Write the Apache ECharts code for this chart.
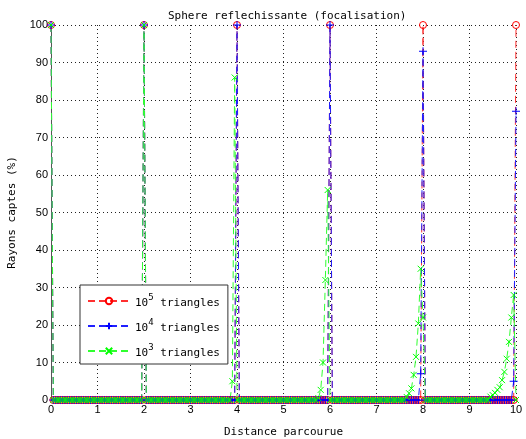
<!DOCTYPE html>
<html>
<head>
<meta charset="utf-8">
<script src="https://cdn.jsdelivr.net/npm/echarts@6/dist/echarts.min.js"></script>
<style>html,body{margin:0;padding:0;background:#fff;}#c{width:526px;height:439px;}</style>
</head>
<body>
<div id="c"></div>
<script>
// Distance samples (shared by all series)
var distance = [
0,0.05,0.1,0.15,0.2,0.25,0.3,0.35,0.4,0.45,0.5,0.55,0.6,0.65,0.7,0.75,0.8,0.85,0.9,0.95,
1,1.05,1.1,1.15,1.2,1.25,1.3,1.35,1.4,1.45,1.5,1.55,1.6,1.65,1.7,1.75,1.8,1.85,1.9,1.95,
2,2.05,2.1,2.15,2.2,2.25,2.3,2.35,2.4,2.45,2.5,2.55,2.6,2.65,2.7,2.75,2.8,2.85,2.9,2.95,
3,3.05,3.1,3.15,3.2,3.25,3.3,3.35,3.4,3.45,3.5,3.55,3.6,3.65,3.7,3.75,3.8,3.85,3.9,3.95,
4,4.05,4.1,4.15,4.2,4.25,4.3,4.35,4.4,4.45,4.5,4.55,4.6,4.65,4.7,4.75,4.8,4.85,4.9,4.95,
5,5.05,5.1,5.15,5.2,5.25,5.3,5.35,5.4,5.45,5.5,5.55,5.6,5.65,5.7,5.75,5.8,5.85,5.9,5.95,
6,6.05,6.1,6.15,6.2,6.25,6.3,6.35,6.4,6.45,6.5,6.55,6.6,6.65,6.7,6.75,6.8,6.85,6.9,6.95,
7,7.05,7.1,7.15,7.2,7.25,7.3,7.35,7.4,7.45,7.5,7.55,7.6,7.65,7.7,7.75,7.8,7.85,7.9,7.95,
8,8.05,8.1,8.15,8.2,8.25,8.3,8.35,8.4,8.45,8.5,8.55,8.6,8.65,8.7,8.75,8.8,8.85,8.9,8.95,
9,9.05,9.1,9.15,9.2,9.25,9.3,9.35,9.4,9.45,9.5,9.55,9.6,9.65,9.7,9.75,9.8,9.85,9.9,9.95,
10];

// 10^5 triangles
var tri1e5 = [
100,0,0,0,0,0,0,0,0,0,0,0,0,0,0,0,0,0,0,0,
0,0,0,0,0,0,0,0,0,0,0,0,0,0,0,0,0,0,0,0,
100,0,0,0,0,0,0,0,0,0,0,0,0,0,0,0,0,0,0,0,
0,0,0,0,0,0,0,0,0,0,0,0,0,0,0,0,0,0,0,0,
100,0,0,0,0,0,0,0,0,0,0,0,0,0,0,0,0,0,0,0,
0,0,0,0,0,0,0,0,0,0,0,0,0,0,0,0,0,0,0,0,
100,0,0,0,0,0,0,0,0,0,0,0,0,0,0,0,0,0,0,0,
0,0,0,0,0,0,0,0,0,0,0,0,0,0,0,0,0,0,0,0,
100,0,0,0,0,0,0,0,0,0,0,0,0,0,0,0,0,0,0,0,
0,0,0,0,0,0,0,0,0,0,0,0,0,0,0,0,0,0,0,0,
100];

// 10^4 triangles
var tri1e4 = [
100,0,0,0,0,0,0,0,0,0,0,0,0,0,0,0,0,0,0,0,
0,0,0,0,0,0,0,0,0,0,0,0,0,0,0,0,0,0,0,0,
100,0,0,0,0,0,0,0,0,0,0,0,0,0,0,0,0,0,0,0,
0,0,0,0,0,0,0,0,0,0,0,0,0,0,0,0,0,0,0,0,
100,0,0,0,0,0,0,0,0,0,0,0,0,0,0,0,0,0,0,0,
0,0,0,0,0,0,0,0,0,0,0,0,0,0,0,0,0,0,0,0,
100,0,0,0,0,0,0,0,0,0,0,0,0,0,0,0,0,0,0,0,
0,0,0,0,0,0,0,0,0,0,0,0,0,0,0,0,0,0,0,7,
93,0,0,0,0,0,0,0,0,0,0,0,0,0,0,0,0,0,0,0,
0,0,0,0,0,0,0,0,0,0,0,0,0,0,0,0,0,0,0,5,
77];

// 10^3 triangles
var tri1e3 = [
100,0,0,0,0,0,0,0,0,0,0,0,0,0,0,0,0,0,0,0,
0,0,0,0,0,0,0,0,0,0,0,0,0,0,0,0,0,0,0,0,
100,0,0,0,0,0,0,0,0,0,0,0,0,0,0,0,0,0,0,0,
0,0,0,0,0,0,0,0,0,0,0,0,0,0,0,0,0,0,5,86,
0,0,0,0,0,0,0,0,0,0,0,0,0,0,0,0,0,0,0,0,
0,0,0,0,0,0,0,0,0,0,0,0,0,0,0,0.5,2.7,10,32,56,
0,0,0,0,0,0,0,0,0,0,0,0,0,0,0,0,0,0,0,0,
0,0,0,0,0,0,0,0,0,0,0,0,0,0.8,1.8,3.1,6.7,11.5,20.4,35,
22,0,0,0,0,0,0,0,0,0,0,0,0,0,0,0,0,0,0,0,
0,0,0,0,0,0,0,0,0,0.9,1.3,1.9,2.7,3.4,5.3,7.5,11,15.5,22,28,
0];

var seriesNames = ['10^5 triangles', '10^4 triangles', '10^3 triangles'];
var xTicks = [0,1,2,3,4,5,6,7,8,9,10];
var yTicks = [0,10,20,30,40,50,60,70,80,90,100];

function pairs(ys) {
  return distance.map(function (x, i) { return [x, ys[i]]; });
}

var mono = 'DejaVu Sans Mono';
var dash = [7, 4];

var chart = echarts.init(document.getElementById('c'), null, {renderer: 'canvas'});
chart.setOption({
  animation: false,
  backgroundColor: '#fff',
  title: {
    text: 'Sphere reflechissante (focalisation)',
    left: 163, top: 6,
    textStyle: {fontFamily: mono, fontSize: 11, fontWeight: 'normal', color: '#000'}
  },
  grid: {left: 51, right: 10, top: 25, bottom: 39, containLabel: false, outerBoundsMode: 'none'},
  legend: {
    orient: 'vertical', left: 80, top: 285,
    itemWidth: 42, itemHeight: 8, itemGap: 9,
    backgroundColor: '#fff', borderColor: '#333', borderWidth: 1, borderRadius: 0,
    padding: [8, 8, 5, 7],
    data: seriesNames,
    formatter: function (name) {
      var p = name.split('^');
      var rest = p[1].split(' ');
      return '{b|' + p[0] + '}{s|' + rest[0] + '}{b| ' + rest.slice(1).join(' ') + '}';
    },
    textStyle: {
      fontFamily: mono, fontSize: 11, color: '#000',
      rich: {
        b: {fontFamily: mono, fontSize: 11, color: '#000', lineHeight: 16, verticalAlign: 'bottom'},
        s: {fontFamily: mono, fontSize: 9, color: '#000', lineHeight: 16, verticalAlign: 'top'}
      }
    }
  },
  xAxis: {
    type: 'value', min: 0, max: 10, interval: 1,
    name: 'Distance parcourue', nameLocation: 'middle', nameGap: 27,
    nameTextStyle: {fontFamily: mono, fontSize: 11, color: '#000'},
    axisLine: {show: true, onZero: false, lineStyle: {color: '#555', width: 1}},
    axisTick: {show: false},
    axisLabel: {fontFamily: 'Liberation Sans', fontSize: 11, color: '#000', margin: 4,
      formatter: function (v) { return xTicks.indexOf(v) >= 0 ? String(v) : ''; }},
    splitLine: {show: true, lineStyle: {color: '#222', width: 1, type: [1, 3]}}
  },
  yAxis: {
    type: 'value', min: 0, max: 100, interval: 10,
    name: 'Rayons captes (%)', nameLocation: 'middle', nameGap: 33,
    nameTextStyle: {fontFamily: mono, fontSize: 11, color: '#000'},
    axisLine: {show: true, lineStyle: {color: '#555', width: 1}},
    axisTick: {show: false},
    axisLabel: {fontFamily: 'Liberation Sans', fontSize: 11, color: '#000', margin: 3,
      formatter: function (v) { return yTicks.indexOf(v) >= 0 ? String(v) : ''; }},
    splitLine: {show: true, lineStyle: {color: '#222', width: 1, type: [1, 3]}}
  },
  series: [
    {
      name: seriesNames[0], type: 'line', data: pairs(tri1e5),
      symbol: 'circle', symbolSize: 7, showAllSymbol: true,
      itemStyle: {color: 'rgba(255,255,255,0)', borderColor: '#ff0000', borderWidth: 1},
      lineStyle: {color: '#ff3030', width: 1, type: dash},
      color: '#ff0000'
    },
    {
      name: seriesNames[1], type: 'line', data: pairs(tri1e4),
      symbol: 'path://M0,5L10,5M5,0L5,10', symbolSize: 8, showAllSymbol: true,
      itemStyle: {color: 'rgba(255,255,255,0)', borderColor: '#0000ff', borderWidth: 1},
      lineStyle: {color: '#2020ff', width: 1, type: dash},
      color: '#0000ff'
    },
    {
      name: seriesNames[2], type: 'line', data: pairs(tri1e3),
      symbol: 'path://M0,0L10,10M10,0L0,10', symbolSize: 6, showAllSymbol: true,
      itemStyle: {color: 'rgba(255,255,255,0)', borderColor: '#00ff00', borderWidth: 1},
      lineStyle: {color: '#30ff30', width: 1, type: dash},
      color: '#00ff00'
    }
  ]
});
</script>
</body>
</html>
